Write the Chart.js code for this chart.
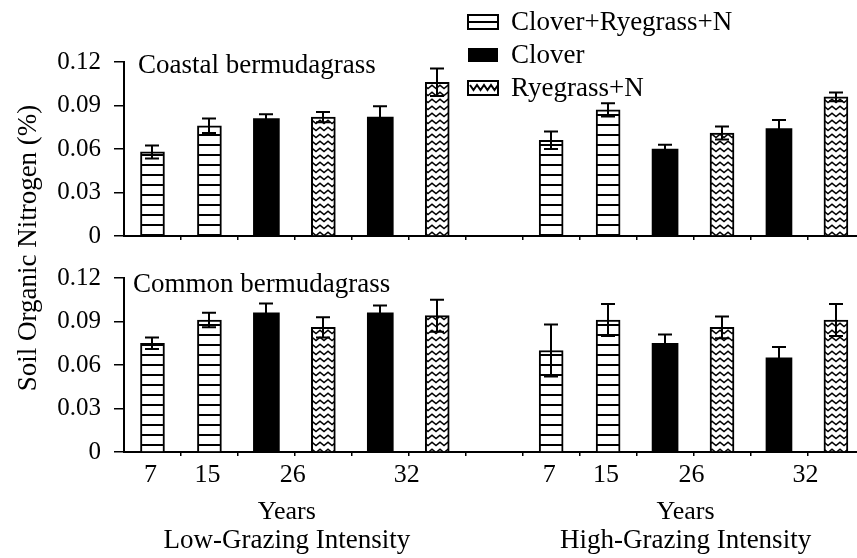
<!DOCTYPE html>
<html><head><meta charset="utf-8">
<script src="https://cdn.jsdelivr.net/npm/chart.js@4.4.1/dist/chart.umd.min.js"></script>
<style>
html,body{margin:0;padding:0;background:#fff;overflow:hidden;}
#wrap{position:relative;width:857px;height:558px;background:#fff;}
canvas{position:absolute;left:0;top:0;}
#fontprobe{position:absolute;left:-9999px;top:0;font-family:"Liberation Serif";font-size:27px;}
</style></head><body>
<div id="fontprobe">Soil Organic Nitrogen 0.12</div>
<div id="wrap"><canvas id="cTop" width="857" height="558"></canvas><canvas id="cBottom" width="857" height="558"></canvas></div>
<script>
// ---------------- data ----------------
const groups = ['Low-Grazing Intensity', 'High-Grazing Intensity'];
const panels = ['Coastal bermudagrass', 'Common bermudagrass'];
const treatments = ['Clover+Ryegrass+N', 'Clover', 'Ryegrass+N'];
const slotYears = ['7', '15', '26', '26', '32', '32'];
const slotTreatments = ['Clover+Ryegrass+N', 'Clover+Ryegrass+N', 'Clover', 'Ryegrass+N', 'Clover', 'Ryegrass+N'];
const yTicks = [0, 0.03, 0.06, 0.09, 0.12];
const axisTitleY = 'Soil Organic Nitrogen (%)';
const axisTitleX = 'Years';

// Coastal bermudagrass
const coastalLow     = [0.058, 0.076, 0.081, 0.082, 0.082, 0.106];
const coastalLowErr  = [0.0045, 0.005, 0.003, 0.0035, 0.0075, 0.0095];
const coastalHigh    = [0.066, 0.087, 0.060, 0.071, 0.074, 0.096];
const coastalHighErr = [0.006, 0.0045, 0.003, 0.0045, 0.006, 0.003];
// Common bermudagrass
const commonLow      = [0.075, 0.091, 0.096, 0.086, 0.096, 0.094];
const commonLowErr   = [0.004, 0.005, 0.0065, 0.007, 0.005, 0.011];
const commonHigh     = [0.070, 0.091, 0.075, 0.086, 0.065, 0.091];
const commonHighErr  = [0.018, 0.011, 0.006, 0.0075, 0.0075, 0.011];

// ---------------- styles ----------------
const FONT = '"Liberation Serif", serif';
const SLOTS_PER_GROUP = slotTreatments.length + 1; // one empty slot between groups

function makeStripe() {
  const c = document.createElement('canvas'); c.width = 8; c.height = 10;
  const g = c.getContext('2d');
  g.fillStyle = '#fff'; g.fillRect(0, 0, 8, 10);
  g.fillStyle = '#000'; g.fillRect(0, 4, 8, 2);
  return c;
}
function makeZig() {
  const c = document.createElement('canvas'); c.width = 8; c.height = 7;
  const g = c.getContext('2d');
  g.fillStyle = '#fff'; g.fillRect(0, 0, 8, 7);
  g.strokeStyle = '#000'; g.lineWidth = 1.6;
  g.beginPath(); g.moveTo(-1, 0.5); g.lineTo(4, 4.5); g.lineTo(9, 0.5); g.stroke();
  return c;
}

function buildDatasets(fills, lowVals, lowErr, highVals, highErr) {
  const src = [[lowVals, lowErr], [highVals, highErr]];
  return treatments.map(t => {
    const data = [];
    src.forEach(([vals, errs], g) => {
      slotTreatments.forEach((st, s) => {
        if (st === t) data.push({ x: g * SLOTS_PER_GROUP + s, y: vals[s], err: errs[s] });
      });
    });
    return {
      label: t, data,
      backgroundColor: fills[t],
      borderColor: '#000',
      borderWidth: t === 'Clover' ? 0 : 2,
      barThickness: t === 'Clover' ? 26 : 24,
      grouped: false
    };
  });
}

const xMax = 2 * SLOTS_PER_GROUP - 1 - 0.63;
const bounds = [];
for (let i = 0; i < 2 * SLOTS_PER_GROUP - 2; i++) bounds.push(i + 0.5);

const errorBars = {
  id: 'errorBars',
  afterDatasetsDraw(chart) {
    const ctx = chart.ctx, ys = chart.scales.y;
    ctx.save();
    ctx.strokeStyle = '#000'; ctx.lineWidth = 2;
    chart.data.datasets.forEach((ds, i) => {
      const meta = chart.getDatasetMeta(i);
      meta.data.forEach((bar, j) => {
        const d = ds.data[j];
        const yt = ys.getPixelForValue(d.y + d.err);
        const yb = ys.getPixelForValue(d.y - d.err);
        const x = Math.round(bar.x);
        ctx.beginPath();
        ctx.moveTo(x, yb); ctx.lineTo(x, yt);
        ctx.moveTo(x - 7, yt); ctx.lineTo(x + 7, yt);
        ctx.moveTo(x - 7, yb); ctx.lineTo(x + 7, yb);
        ctx.stroke();
      });
    });
    ctx.restore();
  }
};

function makeOptions(padTop, padBottom) {
  return {
    responsive: false, animation: false, devicePixelRatio: 1,
    layout: { padding: { top: padTop, bottom: padBottom, left: 0, right: 0 } },
    plugins: { legend: { display: false }, tooltip: { enabled: false } },
    scales: {
      x: {
        type: 'linear', min: -0.5, max: xMax, offset: false,
        afterBuildTicks: s => { s.ticks = bounds.map(b => ({ value: b })); },
        afterFit: s => { s.height = 10; },
        ticks: { display: false, autoSkip: false },
        grid: { offset: false, drawOnChartArea: false, drawTicks: true, tickLength: 4, color: '#000', lineWidth: 1.5 },
        border: { color: '#000', width: 2 }
      },
      y: {
        min: 0, max: 0.12,
        afterBuildTicks: s => { s.ticks = yTicks.map(v => ({ value: v })); },
        afterFit: s => { s.width = 124; },
        ticks: { color: '#000', font: { family: FONT, size: 25 }, padding: 13,
                 callback: v => (v === 0 ? '0' : Number(v).toFixed(2)) },
        grid: { drawOnChartArea: false, drawTicks: true, tickLength: 10, color: '#000', lineWidth: 1.5 },
        border: { color: '#000', width: 2 }
      }
    }
  };
}

const topDecor = {
  id: 'topDecor',
  afterDraw(chart) {
    const ctx = chart.ctx;
    ctx.save();
    ctx.fillStyle = '#000'; ctx.textAlign = 'left'; ctx.textBaseline = 'alphabetic';
    ctx.font = '27px ' + FONT;
    ctx.fillText(panels[0], 138, 73);
    // legend
    ctx.font = '27px ' + FONT;
    treatments.forEach((t, i) => {
      const cy = 22 + i * 33;
      const bx = 468, by = cy - 7, bw = 30, bh = 14;
      if (t === 'Clover') {
        ctx.fillStyle = '#000'; ctx.fillRect(bx, by, bw, bh);
      } else {
        ctx.fillStyle = '#fff'; ctx.fillRect(bx, by, bw, bh);
        ctx.strokeStyle = '#000'; ctx.lineWidth = 2;
        if (t === 'Clover+Ryegrass+N') {
          ctx.beginPath(); ctx.moveTo(bx, cy); ctx.lineTo(bx + bw, cy); ctx.stroke();
        } else {
          ctx.beginPath();
          ctx.moveTo(bx + 2, by + 4);
          for (let k = 0; k < 4; k++) {
            ctx.lineTo(bx + 2 + k * 7 + 3.5, by + 9);
            ctx.lineTo(bx + 2 + (k + 1) * 7, by + 4);
          }
          ctx.stroke();
        }
        ctx.strokeRect(bx, by, bw, bh);
      }
      ctx.fillStyle = '#000';
      ctx.fillText(t, 511, cy + 8);
    });
    // y axis title
    ctx.save();
    ctx.translate(36, 248);
    ctx.rotate(-Math.PI / 2);
    ctx.textAlign = 'center';
    ctx.font = '27px ' + FONT;
    ctx.fillText(axisTitleY, 0, 0);
    ctx.restore();
    ctx.restore();
  }
};

const bottomDecor = {
  id: 'bottomDecor',
  afterDraw(chart) {
    const ctx = chart.ctx, xs = chart.scales.x;
    ctx.save();
    ctx.fillStyle = '#000'; ctx.textBaseline = 'alphabetic';
    ctx.textAlign = 'left';
    ctx.font = '27px ' + FONT;
    ctx.fillText(panels[1], 133, 292);
    ctx.textAlign = 'center';
    const years = [...new Set(slotYears)];
    groups.forEach((gName, g) => {
      ctx.font = '26px ' + FONT;
      years.forEach(y => {
        const idx = slotYears.map((v, s) => (v === y ? s : -1)).filter(s => s >= 0);
        const mean = idx.reduce((a, b) => a + b, 0) / idx.length;
        ctx.fillText(y, xs.getPixelForValue(g * SLOTS_PER_GROUP + mean) - 2, 482);
      });
      const center = xs.getPixelForValue(g * SLOTS_PER_GROUP + (slotYears.length - 1) / 2) - 8;
      ctx.fillText(axisTitleX, center, 519);
      ctx.font = '27px ' + FONT;
      ctx.fillText(gName, center, 548);
    });
    ctx.restore();
  }
};

function draw() {
  const pctx = document.getElementById('cTop').getContext('2d');
  const fills = {
    'Clover+Ryegrass+N': pctx.createPattern(makeStripe(), 'repeat'),
    'Clover': '#000',
    'Ryegrass+N': pctx.createPattern(makeZig(), 'repeat')
  };
  new Chart(document.getElementById('cTop'), {
    type: 'bar',
    data: { datasets: buildDatasets(fills, coastalLow, coastalLowErr, coastalHigh, coastalHighErr) },
    options: makeOptions(62, 312),
    plugins: [errorBars, topDecor]
  });
  new Chart(document.getElementById('cBottom'), {
    type: 'bar',
    data: { datasets: buildDatasets(fills, commonLow, commonLowErr, commonHigh, commonHighErr) },
    options: makeOptions(278, 96),
    plugins: [errorBars, bottomDecor]
  });
}
Promise.all([
  document.fonts.load('27px "Liberation Serif"'),
  document.fonts.load('25px "Liberation Serif"')
]).then(draw, draw);
</script>
</body></html>
